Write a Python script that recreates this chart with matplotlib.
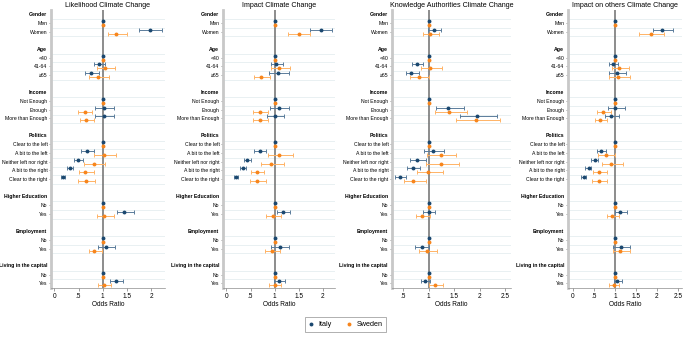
import numpy as np
import matplotlib
matplotlib.use("Agg")
import matplotlib.pyplot as plt
from matplotlib.lines import Line2D
from matplotlib.transforms import blended_transform_factory

plt.rcParams['font.family'] = ['Liberation Sans', 'DejaVu Sans']

nan = np.nan

titles = ["Likelihood Climate Change", "Impact Climate Change",
          "Knowledge Authorities Climate Change", "Impact on others Climate Change"]

groups = ["Gender", "Age", "Income", "Politics", "Higher Education", "Employment",
          "Living in the capital"]
group_categories = [
    ["Men", "Women"],
    ["<40", "41-64", "≥65"],
    ["Not Enough", "Enough", "More than Enough"],
    ["Clear to the left", "A bit to the left", "Neither left nor right",
     "A bit to the right", "Clear to the right"],
    ["No", "Yes"],
    ["No", "Yes"],
    ["No", "Yes"],
]

# Panel 1: Likelihood
p1_italy = [1, 1.98, 1, 0.92, 0.76, 1, 1.02, 1.02, 1, 0.68, 0.48, 0.325, 0.17, 1, 1.45, 1, 1.07, 1, 1.28]
p1_italy_lo = [nan, 1.76, nan, 0.82, 0.63, nan, 0.85, 0.85, nan, 0.56, 0.40, 0.27, 0.13, nan, 1.29, nan, 0.90, nan, 1.16]
p1_italy_hi = [nan, 2.22, nan, 1.04, 0.93, nan, 1.24, 1.23, nan, 0.82, 0.59, 0.39, 0.22, nan, 1.64, nan, 1.26, nan, 1.42]
p1_sweden = [1, 1.28, 1, 1.05, 0.90, 1, 0.63, 0.66, 1, 1.02, 0.81, 0.64, 0.65, 1, 1.035, 1, 0.83, 1, 1.03]
p1_sweden_lo = [nan, 1.10, nan, 0.88, 0.72, nan, 0.49, 0.52, nan, 0.81, 0.62, 0.50, 0.48, nan, 0.88, nan, 0.71, nan, 0.90]
p1_sweden_hi = [nan, 1.50, nan, 1.26, 1.13, nan, 0.77, 0.82, nan, 1.28, 1.04, 0.82, 0.85, nan, 1.23, nan, 0.99, nan, 1.17]

# Panel 2: Impact
p2_italy = [1, 1.95, 1, 1.03, 1.07, 1, 1.08, 1.00, 1, 0.69, 0.43, 0.345, 0.19, 1, 1.18, 1, 1.11, 1, 1.08]
p2_italy_lo = [nan, 1.74, nan, 0.92, 0.89, nan, 0.90, 0.84, nan, 0.58, 0.36, 0.29, 0.15, nan, 1.04, nan, 0.93, nan, 0.98]
p2_italy_hi = [nan, 2.18, nan, 1.17, 1.30, nan, 1.30, 1.20, nan, 0.82, 0.52, 0.41, 0.24, nan, 1.32, nan, 1.30, nan, 1.21]
p2_sweden = [1, 1.50, 1, 1.10, 0.72, 1, 0.70, 0.69, 1, 1.09, 0.92, 0.63, 0.63, 1, 0.97, 1, 0.94, 1, 1.00]
p2_sweden_lo = [nan, 1.28, nan, 0.92, 0.58, nan, 0.56, 0.56, nan, 0.87, 0.72, 0.50, 0.48, nan, 0.82, nan, 0.79, nan, 0.88]
p2_sweden_hi = [nan, 1.74, nan, 1.32, 0.91, nan, 0.87, 0.87, nan, 1.38, 1.20, 0.78, 0.83, nan, 1.14, nan, 1.11, nan, 1.14]

# Panel 3: Knowledge Authorities
p3_italy = [1, 1.10, 1, 0.77, 0.66, 1, 1.38, 1.95, 1, 1.08, 0.77, 0.69, 0.44, 1, 1.00, 1, 0.86, 1, 0.92]
p3_italy_lo = [nan, 0.98, nan, 0.68, 0.55, nan, 1.14, 1.62, nan, 0.91, 0.63, 0.57, 0.34, nan, 0.89, nan, 0.73, nan, 0.84]
p3_italy_hi = [nan, 1.23, nan, 0.88, 0.81, nan, 1.68, 2.34, nan, 1.29, 0.94, 0.83, 0.55, nan, 1.12, nan, 1.01, nan, 1.03]
p3_sweden = [1, 1.03, 1, 1.03, 0.80, 1, 1.40, 1.92, 1, 1.23, 1.23, 0.99, 0.69, 1, 0.87, 1, 0.96, 1, 1.13]
p3_sweden_lo = [nan, 0.88, nan, 0.84, 0.63, nan, 1.12, 1.53, nan, 0.97, 0.94, 0.77, 0.51, nan, 0.75, nan, 0.80, nan, 1.00]
p3_sweden_hi = [nan, 1.21, nan, 1.25, 1.01, nan, 1.75, 2.40, nan, 1.53, 1.60, 1.28, 0.94, nan, 1.02, nan, 1.16, nan, 1.28]

# Panel 4: Impact on others
p4_italy = [1, 2.13, 1, 0.95, 1.05, 1, 1.01, 0.91, 1, 0.67, 0.52, 0.37, 0.25, 1, 1.13, 1, 1.14, 1, 1.06]
p4_italy_lo = [nan, 1.91, nan, 0.86, 0.87, nan, 0.84, 0.76, nan, 0.56, 0.44, 0.29, 0.18, nan, 1.00, nan, 0.96, nan, 0.97]
p4_italy_hi = [nan, 2.39, nan, 1.07, 1.27, nan, 1.23, 1.10, nan, 0.79, 0.60, 0.44, 0.31, nan, 1.28, nan, 1.37, nan, 1.17]
p4_sweden = [1, 1.85, 1, 1.10, 1.08, 1, 0.72, 0.65, 1, 0.79, 0.91, 0.63, 0.61, 1, 0.94, 1, 1.13, 1, 0.97]
p4_sweden_lo = [nan, 1.58, nan, 0.92, 0.85, nan, 0.57, 0.52, nan, 0.60, 0.70, 0.48, 0.46, nan, 0.81, nan, 0.96, nan, 0.85]
p4_sweden_hi = [nan, 2.17, nan, 1.33, 1.37, nan, 0.91, 0.81, nan, 1.00, 1.20, 0.81, 0.81, nan, 1.10, nan, 1.37, nan, 1.09]

panels = [
    (p1_italy, p1_italy_lo, p1_italy_hi, p1_sweden, p1_sweden_lo, p1_sweden_hi),
    (p2_italy, p2_italy_lo, p2_italy_hi, p2_sweden, p2_sweden_lo, p2_sweden_hi),
    (p3_italy, p3_italy_lo, p3_italy_hi, p3_sweden, p3_sweden_lo, p3_sweden_hi),
    (p4_italy, p4_italy_lo, p4_italy_hi, p4_sweden, p4_sweden_lo, p4_sweden_hi),
]

xticks_list = [[0, 0.5, 1, 1.5, 2], [0, 0.5, 1, 1.5, 2],
               [0.5, 1, 1.5, 2, 2.5], [0, 0.5, 1, 1.5, 2, 2.5]]
xlims = [(-0.07, 2.29), (-0.07, 2.25), (0.28, 2.61), (-0.12, 2.6)]

# axes pixel extents (left, right)
W, H = 685, 338
ax_px = [(51, 165), (223, 335), (392, 511), (568, 682)]
top_px, bot_px = 10, 288

italy_col = "#1a476f"
italy_ci = "#5b7c9b"
sweden_col = "#f7851c"
sweden_ci = "#ffb366"
grid_col = "#e9f0f2"

# compute row layout
heading_pos = []
cat_pos = []
cat_labels = []
r = 0
for g, cats in zip(groups, group_categories):
    heading_pos.append(r)
    r += 1
    for c in cats:
        cat_pos.append(r)
        cat_labels.append(c)
        r += 1
    r += 1
cat_pos = np.array(cat_pos, dtype=float)

fig = plt.figure(figsize=(W / 100, H / 100), dpi=100)
off = 0.23

def fmt(v):
    s = f"{v:g}"
    if s.startswith("0."):
        s = s[1:]
    return s

for i, (title, data) in enumerate(zip(titles, panels)):
    l, rr = ax_px[i]
    ax = fig.add_axes([l / W, 1 - bot_px / H, (rr - l) / W, (bot_px - top_px) / H])
    it, itlo, ithi, sw, swlo, swhi = [np.array(a, dtype=float) for a in data]

    # light gridlines around category rows
    for gi, cats in enumerate(group_categories):
        pass
    bounds = set()
    for p in cat_pos:
        bounds.add(p - 0.45)
        bounds.add(p + 0.55)
    for b in sorted(bounds):
        ax.axhline(b, color=grid_col, lw=0.7, zorder=0)

    ax.axvline(1, color="#6e6e6e", lw=1.1, zorder=1)

    yi = cat_pos - off
    ys = cat_pos + off
    m = ~np.isnan(itlo)
    ax.errorbar(it[m], yi[m], xerr=[it[m] - itlo[m], ithi[m] - it[m]], fmt="none",
                ecolor=italy_ci, elinewidth=0.7, capsize=1.5, capthick=0.7, zorder=2)
    m = ~np.isnan(swlo)
    ax.errorbar(sw[m], ys[m], xerr=[sw[m] - swlo[m], swhi[m] - sw[m]], fmt="none",
                ecolor=sweden_ci, elinewidth=0.7, capsize=1.5, capthick=0.7, zorder=2)
    ax.plot(it, yi, "o", color=italy_col, ms=2.8, mew=0, zorder=3)
    ax.plot(sw, ys, "o", color=sweden_col, ms=2.8, mew=0, zorder=3)

    ax.set_ylim(31.55, -0.5)
    ax.set_xlim(*xlims[i])
    ax.set_yticks(cat_pos)
    ax.set_yticklabels(cat_labels, fontsize=3.7)
    ax.tick_params(axis="y", length=1.5, width=0.4, color="#555555", pad=1)
    ax.set_xticks(xticks_list[i])
    ax.set_xticklabels([fmt(v) for v in xticks_list[i]], fontsize=4.7)
    ax.tick_params(axis="x", length=2, width=0.4, color="#555555", pad=1.5)
    ax.set_xlabel("Odds Ratio", fontsize=4.7, labelpad=1)
    ax.set_title(title, fontsize=5.1, pad=2.5)

    for s in ["top", "right"]:
        ax.spines[s].set_visible(False)
    ax.spines["left"].set_color("#c8c8c8")
    ax.spines["left"].set_linewidth(2.0)
    ax.spines["bottom"].set_color("#8c8c8c")
    ax.spines["bottom"].set_linewidth(0.5)

    trans = blended_transform_factory(ax.transAxes, ax.transData)
    for g, hp in zip(groups, heading_pos):
        ax.text(-0.035, hp, g, transform=trans, ha="right", va="center",
                fontsize=3.7, fontweight="bold", clip_on=False)

handles = [Line2D([], [], marker="o", ls="none", color=italy_col, ms=2.8, mew=0),
           Line2D([], [], marker="o", ls="none", color=sweden_col, ms=2.8, mew=0)]
leg = fig.legend(handles, ["Italy", "Sweden"], loc="center",
                 bbox_to_anchor=(345.5 / W, 1 - 324.5 / H), ncol=2, fontsize=5.2,
                 frameon=True, fancybox=False, handletextpad=0.6, columnspacing=2.0,
                 handlelength=0.8, borderpad=0.5)
leg.get_frame().set_edgecolor("#8c8c8c")
leg.get_frame().set_linewidth(0.6)

fig.savefig("out.png", dpi=100)
